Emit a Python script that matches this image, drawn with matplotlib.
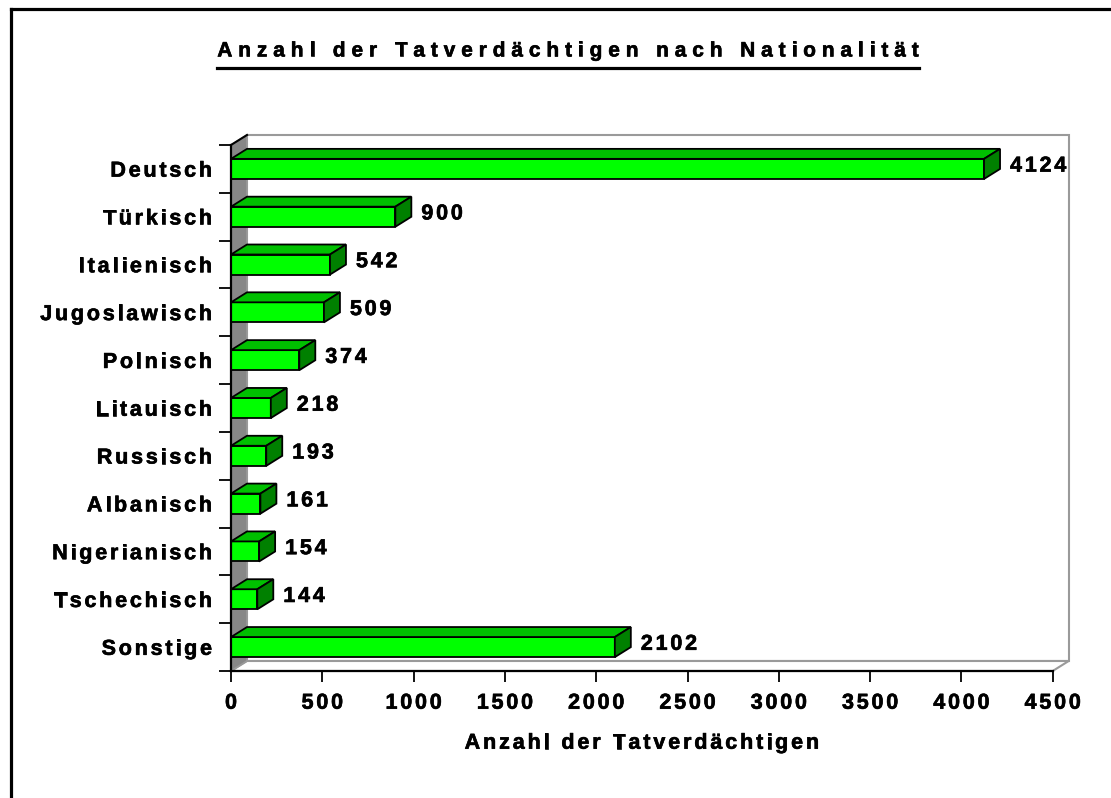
import matplotlib

matplotlib.use("Agg")
import matplotlib.patheffects as pe
import matplotlib.pyplot as plt
from matplotlib.font_manager import FontProperties, findfont, get_font
from matplotlib.lines import Line2D
from matplotlib.patches import Polygon

W, H, DPI = 1111, 798, 100
FONT = "Liberation Sans"

TITLE = "Anzahl der Tatverdächtigen nach Nationalität"
X_LABEL = "Anzahl der Tatverdächtigen"
NATIONS = ["Deutsch", "Türkisch", "Italienisch", "Jugoslawisch", "Polnisch", "Litauisch",
           "Russisch", "Albanisch", "Nigerianisch", "Tschechisch", "Sonstige"]
COUNTS = [4124, 900, 542, 509, 374, 218, 193, 161, 154, 144, 2102]
X_TICKS = [0, 500, 1000, 1500, 2000, 2500, 3000, 3500, 4000, 4500]

FRONT = "#00ff00"
TOP = "#00c000"
SIDE = "#008000"

fig = plt.figure(figsize=(W / DPI, H / DPI), dpi=DPI)
heavy = [pe.withStroke(linewidth=0.45, foreground="black")]


def advances(s, size):
    prop = FontProperties(family=FONT, weight="bold", size=size)
    font = get_font(findfont(prop))
    font.set_size(size, DPI)
    out = [font.load_char(ord(ch)).linearHoriAdvance / 65536 for ch in s]
    return out


def spaced_text(x, y, s, size, track, ha="left"):
    # x, y in image pixels (top-left origin), y = middle of the capitals
    adv = advances(s, size)
    total = sum(adv) + track * (len(s) - 1)
    if ha == "center":
        x0 = x - total / 2
    elif ha == "right":
        x0 = x - total
    else:
        x0 = x
    base = y + 0.358 * size * DPI / 72
    pos = x0
    for ch, a in zip(s, adv):
        fig.text(pos / W, 1 - base / H, ch, ha="left", va="baseline",
                 fontsize=size, fontweight="bold", family=FONT, color="black",
                 path_effects=heavy)
        pos += a + track
    return x0, total


def to_img(ax, x, y):
    px, py = ax.transData.transform((x, y))
    return px, H - py


ax = fig.add_axes([231 / W, 1 - 671 / H, 821.7 / W, 526 / H])
n = len(NATIONS)
ax.set_xlim(X_TICKS[0], X_TICKS[-1])
ax.set_ylim(n - 0.5, -0.5)
ax.patch.set_visible(False)

# depth of the 3d effect in data units
dx = 16 * (X_TICKS[-1] - X_TICKS[0]) / 821.7
dy = 10 / 526 * n
h = 0.42
y_lo, y_hi = -0.5, n - 0.5
xmax = X_TICKS[-1]

# walls
back = Polygon([(dx, y_lo - dy), (xmax + dx, y_lo - dy), (xmax + dx, y_hi - dy), (dx, y_hi - dy)],
               closed=True, fc="white", ec="#9a9a9a", lw=1.5, zorder=0, clip_on=False)
floor = Polygon([(0, y_hi), (xmax, y_hi), (xmax + dx, y_hi - dy), (dx, y_hi - dy)],
                closed=True, fc="white", ec="#9a9a9a", lw=1.5, zorder=0.5, clip_on=False)
left = Polygon([(0, y_lo), (dx, y_lo - dy), (dx, y_hi - dy), (0, y_hi)],
               closed=True, fc="#878787", ec="#9a9a9a", lw=1.2, zorder=0.6, clip_on=False)
for p in (back, floor, left):
    ax.add_patch(p)
ax.plot([0, dx], [y_lo, y_lo - dy], color="black", lw=1.5, zorder=0.7, clip_on=False)

# bars
ys = list(range(n))
ax.barh(ys, COUNTS, height=h, color=FRONT, edgecolor="black", linewidth=1.3, zorder=3)
for i, v in zip(ys, COUNTS):
    t = i - h / 2
    b = i + h / 2
    ax.add_patch(Polygon([(0, t), (v, t), (v + dx, t - dy), (dx, t - dy)], closed=True,
                         fc=TOP, ec="black", lw=1.3, zorder=3, clip_on=False))
    ax.add_patch(Polygon([(v, t), (v + dx, t - dy), (v + dx, b - dy), (v, b)], closed=True,
                         fc=SIDE, ec="black", lw=1.3, zorder=3, clip_on=False))

# axes lines and ticks
for side in ("top", "right"):
    ax.spines[side].set_visible(False)
for side in ("left", "bottom"):
    ax.spines[side].set_linewidth(1.6)
    ax.spines[side].set_zorder(4)
ax.set_xticks(X_TICKS)
ax.set_yticks([k - 0.5 for k in range(n + 1)])
ax.tick_params(axis="x", length=8, width=1.3, labelbottom=False)
ax.tick_params(axis="y", length=8.5, width=1.3, labelleft=False)

# labels
for i, name in enumerate(NATIONS):
    _, py = to_img(ax, 0, i)
    spaced_text(212, py, name, 15.5, 2.8, ha="right")
for xt in X_TICKS:
    px, py = to_img(ax, xt, y_hi)
    spaced_text(px, py + 30, str(xt), 15.5, 2.8, ha="center")
for i, v in zip(ys, COUNTS):
    px, py = to_img(ax, v + dx, i - dy / 2)
    spaced_text(px + 10, py, str(v), 15.5, 2.8)

cx, _ = to_img(ax, xmax / 2, y_hi)
spaced_text(cx, 741, X_LABEL, 15.5, 2.9, ha="center")

x0, tw = spaced_text(568, 49, TITLE, 15, 5.9, ha="center")
fig.add_artist(Line2D([x0 / W, (x0 + tw) / W], [1 - 67.5 / H] * 2, color="black", lw=2.3))

# frame around the chart
fig.add_artist(Line2D([10.5 / W, 1], [1 - 8.5 / H] * 2, color="black", lw=2.3))
fig.add_artist(Line2D([10.5 / W] * 2, [0, 1 - 8.5 / H], color="black", lw=2.3))

fig.savefig("out.png", dpi=DPI)
